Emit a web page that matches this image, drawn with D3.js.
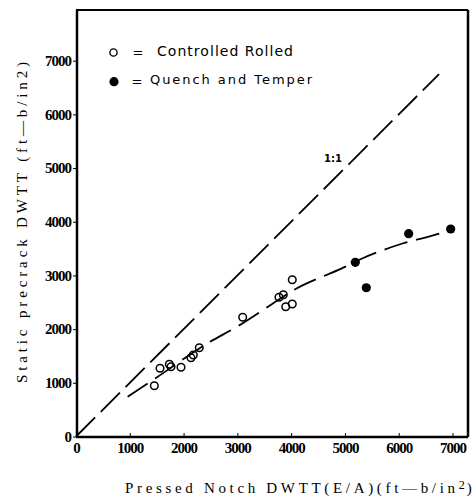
<!DOCTYPE html>
<html>
<head>
<meta charset="utf-8">
<script src="https://cdn.jsdelivr.net/npm/d3@7"></script>
<style>
  html, body { margin: 0; padding: 0; background: #fff; }
  svg { display: block; }
</style>
</head>
<body>
<svg id="chart" width="475" height="498"></svg>
<script>
// ---- Data ----
const xTicks = [0, 1000, 2000, 3000, 4000, 5000, 6000, 7000];
const yTicks = [0, 1000, 2000, 3000, 4000, 5000, 6000, 7000];

// Controlled Rolled (open circles): [pressed notch, static precrack]
const controlledRolled = [
  [1456, 946], [1562, 1270], [1735, 1345], [1766, 1300], [1952, 1289],
  [2138, 1468], [2181, 1518], [2292, 1654], [3099, 2220],
  [3774, 2593], [3854, 2641], [3899, 2418], [4021, 2468], [4021, 2920]
];
// Quench and Temper (filled circles)
const quenchTemper = [
  [5193, 3245], [5397, 2771], [6185, 3777], [6966, 3865]
];
// Fitted trend curve
const trendCurve = [
  [960, 740], [1500, 1100], [2460, 1745], [3000, 2050], [3640, 2465],
  [4010, 2705], [4970, 3145], [5330, 3320], [6055, 3590], [6770, 3785], [6900, 3830]
];
// 1:1 reference line
const oneToOne = [[0, 0], [6750, 6750]];

const legendLabels = ["Controlled Rolled", "Quench and Temper"];
const xTitle = "Pressed Notch DWTT(E/A)(ft—b/in";
const yTitle = "Static precrack DWTT (ft—b/in2)";

const SERIF = "'Liberation Serif'";
const HAND = "'DejaVu Sans'";

// ---- Scales ----
const svg = d3.select("#chart");
const x = d3.scaleLinear().domain([0, 7288]).range([76, 468]);
const y = d3.scaleLinear().domain([0, 7944]).range([436.5, 10]);

// ---- Frame ----
svg.append("line").attr("x1", 76).attr("x2", 468).attr("y1", 10).attr("y2", 10)
  .attr("stroke", "#000").attr("stroke-width", 2);
svg.append("line").attr("x1", 468).attr("x2", 468).attr("y1", 10).attr("y2", 437)
  .attr("stroke", "#000").attr("stroke-width", 2.5);

// ---- Axes ----
const xAxis = d3.axisBottom(x).tickValues(xTicks).tickSizeInner(-4).tickSizeOuter(0)
  .tickPadding(8).tickFormat(d3.format("d"));
const gx = svg.append("g").attr("transform", "translate(0,437)").call(xAxis);
gx.attr("font-family", null).attr("font-size", null);
gx.select(".domain").attr("stroke-width", 2.5).attr("d", "M76,0H468");
gx.selectAll(".tick line").attr("stroke-width", 1);
gx.selectAll(".tick text").style("font-family", SERIF).style("font-size", "15px")
  .style("font-weight", "bold").style("letter-spacing", "-1px")
  .attr("fill", "#000").attr("dy", "0.55em");

const yAxis = d3.axisLeft(y).tickValues(yTicks).tickSizeInner(4).tickSizeOuter(0)
  .tickPadding(2).tickFormat(d3.format("d"));
const gy = svg.append("g").attr("transform", "translate(77,0)").call(yAxis);
gy.attr("font-family", null).attr("font-size", null);
gy.select(".domain").attr("stroke-width", 2.5).attr("d", "M0,10V437");
gy.selectAll(".tick line").attr("stroke-width", 1);
gy.selectAll(".tick text").style("font-family", SERIF).style("font-size", "15px")
  .style("font-weight", "bold").style("letter-spacing", "-1px").attr("fill", "#000");

// ---- Lines ----
const line = d3.line().x(d => x(d[0])).y(d => y(d[1]));
svg.append("path").datum(oneToOne).attr("d", line)
  .attr("fill", "none").attr("stroke", "#000").attr("stroke-width", 1.8)
  .attr("stroke-dasharray", "27,8");

const curve = d3.line().x(d => x(d[0])).y(d => y(d[1])).curve(d3.curveMonotoneX);
svg.append("path").datum(trendCurve).attr("d", curve)
  .attr("fill", "none").attr("stroke", "#000").attr("stroke-width", 1.8)
  .attr("stroke-dasharray", "24,9");

svg.append("text").attr("x", 333).attr("y", 162).attr("text-anchor", "middle")
  .style("font-family", HAND).style("font-size", "10px")
  .style("font-weight", "bold").text("1:1");

// ---- Points ----
svg.append("g").selectAll("circle").data(controlledRolled).join("circle")
  .attr("cx", d => x(d[0])).attr("cy", d => y(d[1])).attr("r", 3.8)
  .attr("fill", "none").attr("stroke", "#000").attr("stroke-width", 1.5);
svg.append("g").selectAll("circle").data(quenchTemper).join("circle")
  .attr("cx", d => x(d[0])).attr("cy", d => y(d[1])).attr("r", 4.6)
  .attr("fill", "#000");

// ---- Legend ----
svg.append("circle").attr("cx", 113.5).attr("cy", 52.5).attr("r", 3.6)
  .attr("fill", "none").attr("stroke", "#000").attr("stroke-width", 1.4);
svg.append("text").attr("x", 138).attr("y", 57).attr("text-anchor", "middle")
  .style("font-family", HAND).style("font-size", "13px").text("=");
svg.append("text").attr("x", 157).attr("y", 56)
  .style("font-family", HAND).style("font-size", "14px")
  .attr("textLength", 136).attr("lengthAdjust", "spacing")
  .text(legendLabels[0]);

svg.append("circle").attr("cx", 114).attr("cy", 81.7).attr("r", 4.6).attr("fill", "#000");
svg.append("text").attr("x", 137).attr("y", 86).attr("text-anchor", "middle")
  .style("font-family", HAND).style("font-size", "13px").text("=");
svg.append("text").attr("x", 150).attr("y", 84)
  .style("font-family", HAND).style("font-size", "13px")
  .attr("textLength", 162).attr("lengthAdjust", "spacing")
  .text(legendLabels[1]);

// ---- Axis titles ----
const xt = svg.append("text").attr("x", 125).attr("y", 493)
  .style("font-family", SERIF).style("font-size", "15px");
xt.append("tspan").attr("textLength", 330).attr("lengthAdjust", "spacing").text(xTitle);
xt.append("tspan").attr("dy", -4).style("font-size", "12px").text("2");
xt.append("tspan").attr("dy", 4).attr("dx", 2).text(")");

svg.append("text").attr("transform", "translate(27,222.5) rotate(-90)")
  .attr("text-anchor", "middle").style("font-family", SERIF).style("font-size", "15px")
  .attr("textLength", 321).attr("lengthAdjust", "spacing").text(yTitle);
</script>
</body>
</html>
